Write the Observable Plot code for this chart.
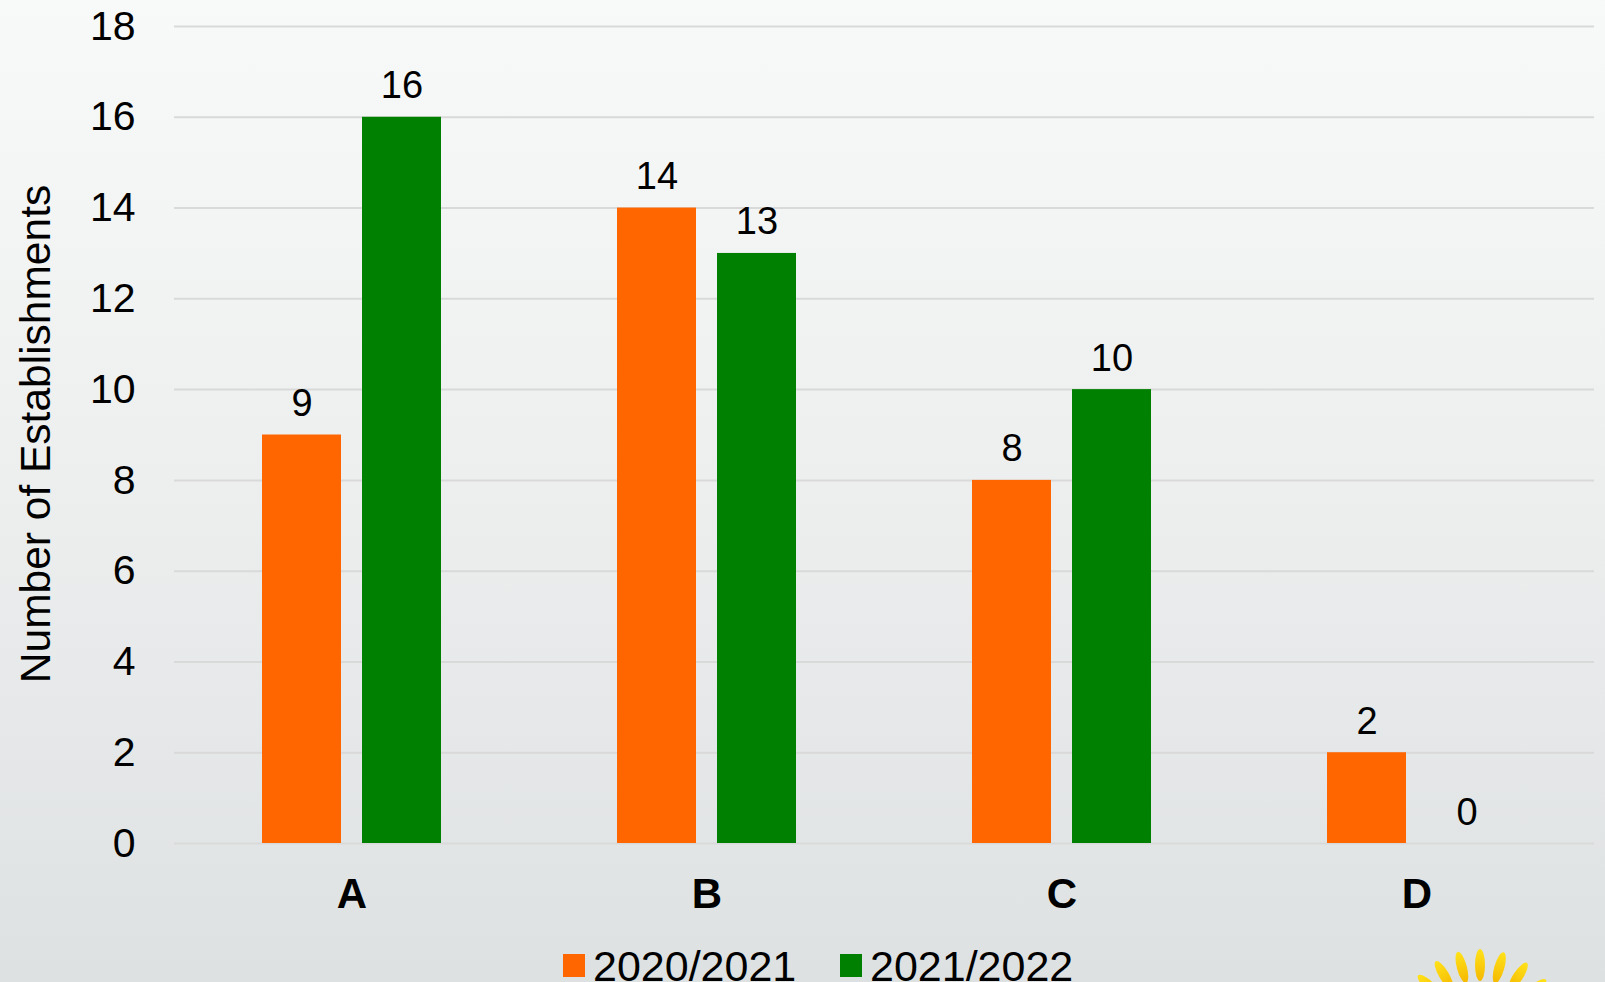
<!DOCTYPE html>
<html>
<head>
<meta charset="utf-8">
<script src="https://cdn.jsdelivr.net/npm/d3@7"></script>
<script src="https://cdn.jsdelivr.net/npm/@observablehq/plot@0.6"></script>
<style>
  html, body { margin: 0; padding: 0; }
  body {
    width: 1605px; height: 982px; overflow: hidden; position: relative;
    background: linear-gradient(to bottom, #f8f9f9 0%, #eef0f0 45%, #dee1e2 100%);
    font-family: "Liberation Sans", Arial, sans-serif;
  }
  #chart { position: absolute; left: 0; top: 0; }
  .legend-swatch { position: absolute; width: 22px; height: 23px; }
  .legend-text { position: absolute; font-size: 43px; line-height: 43px; color: #000; white-space: nowrap; }
  #sun { position: absolute; left: 1375px; top: 930px; }
</style>
</head>
<body>
<div id="chart"></div>
<div id="legend"></div>
<svg id="sun" width="230" height="52"></svg>
<script>
const categories = ["A", "B", "C", "D"];
const seasons = ["2020/2021", "2021/2022"];
const values2020_2021 = [9, 14, 8, 2];
const values2021_2022 = [16, 13, 10, 0];
const yTicks = [0, 2, 4, 6, 8, 10, 12, 14, 16, 18];
const seasonColors = ["#ff6600", "#008000"];
const yLabel = "Number of Establishments";

const data = categories.flatMap((c, i) => [
  {category: c, season: seasons[0], value: values2020_2021[i]},
  {category: c, season: seasons[1], value: values2021_2022[i]}
]);

const chart = Plot.plot({
  width: 1605,
  height: 935,
  marginLeft: 173,
  marginRight: 10,
  marginTop: 26,
  marginBottom: 92,
  style: {background: "transparent", fontFamily: "'Liberation Sans', Arial, sans-serif", overflow: "visible", color: "#000"},
  fx: {domain: categories, padding: 0, label: null},
  x: {domain: seasons, paddingInner: 0.208, paddingOuter: 0.864, axis: null},
  y: {domain: [0, 18], label: null},
  color: {domain: seasons, range: seasonColors},
  marks: [
    Plot.gridY(yTicks, {stroke: "#d9d9d9", strokeOpacity: 1, strokeWidth: 2}),
    Plot.barY(data, {fx: "category", x: "season", y: "value", fill: "season"}),
    Plot.text(data, {
      fx: "category", x: "season", y: "value",
      text: d => String(d.value),
      lineAnchor: "bottom", dy: -19, fontSize: 38, fill: "#000"
    }),
    Plot.axisY(yTicks, {tickSize: 0, tickPadding: 39, fontSize: 41, label: null, fill: "#000"}),
    Plot.axisFx({anchor: "bottom", tickSize: 0, tickPadding: 35, fontSize: 42, fontWeight: "bold", label: null, fill: "#000"}),
    Plot.text([yLabel], {
      facet: "super", frameAnchor: "left", textAnchor: "middle", rotate: -90,
      dx: -138, dy: -1, fontSize: 42.5, fill: "#000", text: d => d
    })
  ]
});
document.getElementById("chart").appendChild(chart);

// Legend (HTML, below the SVG)
const legend = document.getElementById("legend");
const legendStarts = [563, 840];
seasons.forEach((s, i) => {
  const sw = document.createElement("div");
  sw.className = "legend-swatch";
  sw.style.left = legendStarts[i] + "px";
  sw.style.top = "954px";
  sw.style.background = seasonColors[i];
  legend.appendChild(sw);
  const tx = document.createElement("div");
  tx.className = "legend-text";
  tx.style.left = (legendStarts[i] + 30) + "px";
  tx.style.top = "945px";
  tx.textContent = s;
  legend.appendChild(tx);
});

// Decorative sun logo (partially visible at the bottom right)
const sun = d3.select("#sun");
const defs = sun.append("defs");
const grad = defs.append("linearGradient").attr("id", "petal").attr("x1", 0).attr("y1", 0).attr("x2", 0).attr("y2", 1);
grad.append("stop").attr("offset", "0%").attr("stop-color", "#ffe21a");
grad.append("stop").attr("offset", "100%").attr("stop-color", "#f5b800");
const cx = 105, cy = 105;
[-46, -31, -15, 0, 16, 33, 50].forEach(a => {
  sun.append("ellipse")
    .attr("cx", 0).attr("cy", -70).attr("rx", 5).attr("ry", 16)
    .attr("fill", "url(#petal)")
    .attr("transform", `translate(${cx},${cy}) rotate(${a})`);
});
</script>
</body>
</html>
